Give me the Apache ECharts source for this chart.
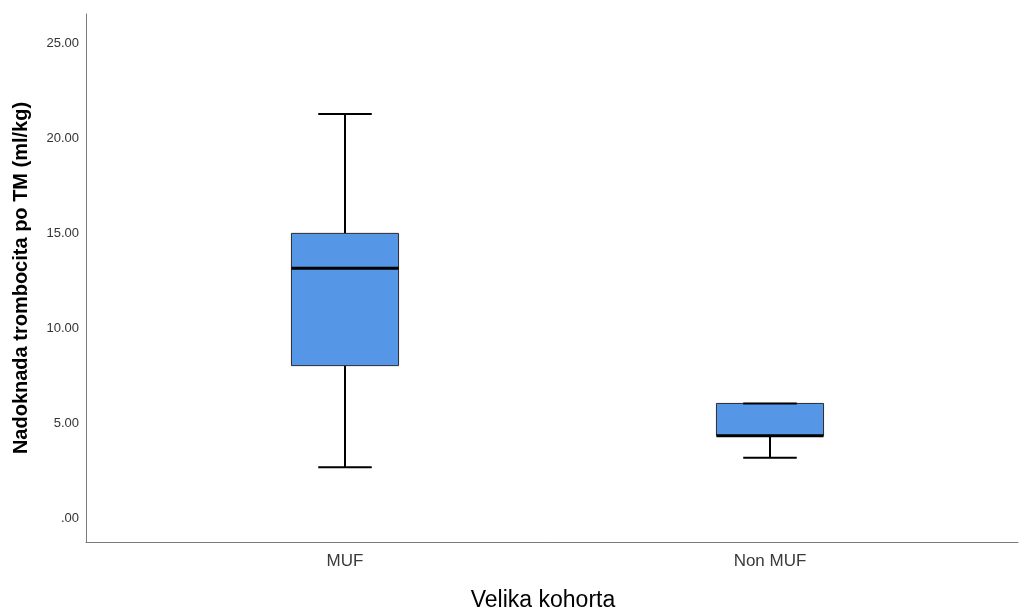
<!DOCTYPE html>
<html>
<head>
<meta charset="utf-8">
<script src="https://cdn.jsdelivr.net/npm/echarts@6/dist/echarts.min.js"></script>
<style>html,body{margin:0;padding:0;background:#fff}#c{width:1020px;height:612px}</style>
</head>
<body>
<div id="c"></div>
<script>
const categories = ['MUF', 'Non MUF'];
const minVals = [2.67, 3.17];
const q1Vals = [8.02, 4.33];
const medianVals = [13.14, 4.33];
const q3Vals = [14.98, 6.03];
const maxVals = [21.26, 6.03];
const yTickValues = [0, 5, 10, 15, 20, 25];

const FONT = '"Liberation Sans", Arial, sans-serif';
const yMin = -1.263, yMax = 26.526;

const data = categories.map((c, i) => [i, minVals[i], q1Vals[i], medianVals[i], q3Vals[i], maxVals[i]]);

const chart = echarts.init(document.getElementById('c'), null, {renderer: 'canvas'});
chart.setOption({
  animation: false,
  backgroundColor: '#fff',
  grid: [
    {left: 86, right: 2, top: 14, bottom: 70, containLabel: false, outerBoundsMode: 'none'},
    {left: 132.5, right: 37.5, top: 14, bottom: 70, containLabel: false, outerBoundsMode: 'none'}
  ],
  xAxis: [
    {gridIndex: 0, type: 'value', min: 0, max: 1,
     axisLine: {show: true, onZero: false, lineStyle: {color: '#7a7a7a', width: 1}},
     axisTick: {show: false}, axisLabel: {show: false}, splitLine: {show: false},
     name: 'Velika kohorta', nameLocation: 'middle', nameGap: 47,
     nameTextStyle: {fontFamily: FONT, fontSize: 23, color: '#000', padding: [0, 18, 0, 0]}},
    {gridIndex: 1, type: 'category', data: categories,
     axisLine: {show: false}, axisTick: {show: false}, splitLine: {show: false},
     axisLabel: {fontFamily: FONT, fontSize: 17, color: '#3a3a3a', margin: 11}}
  ],
  yAxis: [
    {gridIndex: 0, type: 'value', min: yMin, max: yMax,
     axisLine: {show: true, onZero: false, lineStyle: {color: '#7a7a7a', width: 1}},
     axisTick: {show: false}, splitLine: {show: false},
     axisLabel: {customValues: yTickValues, fontFamily: FONT, fontSize: 13, color: '#333', margin: 7,
       formatter: v => (Math.abs(v) < 1e-9 ? '.00' : v.toFixed(2))},
     name: 'Nadoknada trombocita po TM (ml/kg)', nameLocation: 'middle', nameGap: 55,
     nameTextStyle: {fontFamily: FONT, fontSize: 20, fontWeight: 'bold', color: '#000'}},
    {gridIndex: 1, type: 'value', min: yMin, max: yMax, show: false,
     splitLine: {show: false}}
  ],
  series: [{
    type: 'custom',
    xAxisIndex: 1, yAxisIndex: 1,
    data: data,
    encode: {x: 0, y: [1, 2, 3, 4, 5]},
    renderItem: function (params, api) {
      const x = api.value(0);
      const lo = api.coord([x, api.value(1)]);
      const q1 = api.coord([x, api.value(2)]);
      const med = api.coord([x, api.value(3)]);
      const q3 = api.coord([x, api.value(4)]);
      const hi = api.coord([x, api.value(5)]);
      const band = api.size([1, 0])[0];
      const bw = band * 0.252;
      const cw = bw / 2;
      const cx = Math.round(lo[0]);
      const lineStyle = {stroke: '#000', lineWidth: 2};
      const children = [];
      children.push({type: 'line', shape: {x1: cx, y1: lo[1], x2: cx, y2: q1[1]}, style: lineStyle});
      children.push({type: 'line', shape: {x1: cx, y1: q3[1], x2: cx, y2: hi[1]}, style: lineStyle});
      children.push({type: 'rect', shape: {x: cx - bw / 2, y: q3[1], width: bw, height: q1[1] - q3[1]},
        style: {fill: '#5596E6', stroke: '#2a2a2a', lineWidth: 1}});
      children.push({type: 'line', shape: {x1: cx - bw / 2, y1: med[1], x2: cx + bw / 2, y2: med[1]},
        style: {stroke: '#000', lineWidth: 3}});
      children.push({type: 'line', shape: {x1: cx - cw / 2, y1: lo[1], x2: cx + cw / 2, y2: lo[1]}, style: lineStyle});
      children.push({type: 'line', shape: {x1: cx - cw / 2, y1: hi[1], x2: cx + cw / 2, y2: hi[1]}, style: lineStyle});
      return {type: 'group', children: children};
    }
  }]
});
</script>
</body>
</html>
